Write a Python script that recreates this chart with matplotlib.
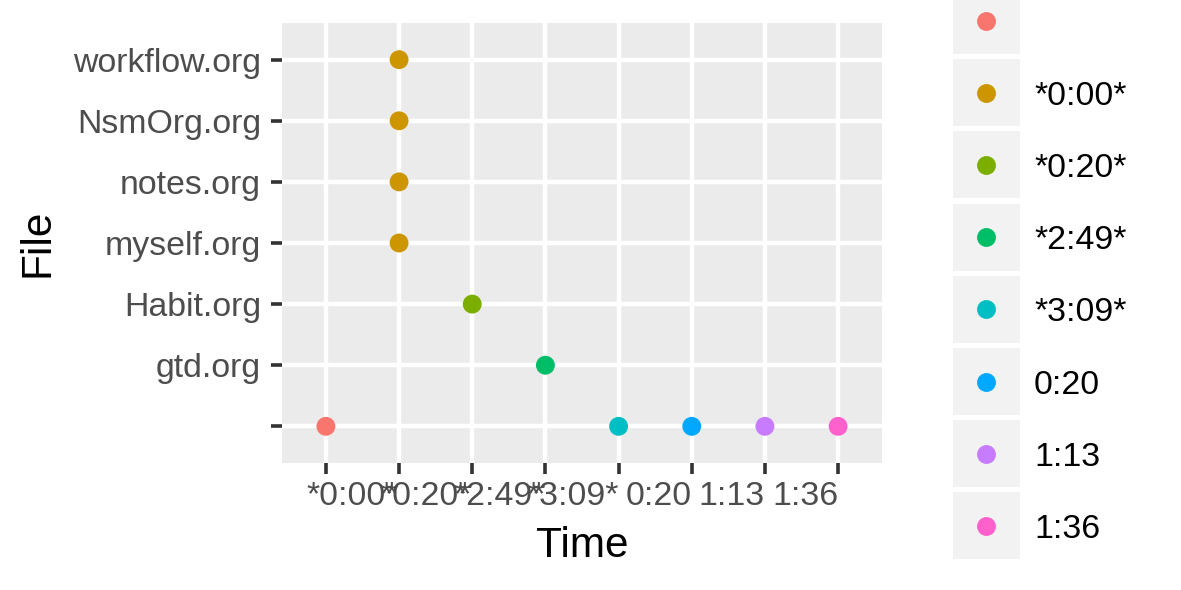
import matplotlib
matplotlib.use("Agg")
import matplotlib.pyplot as plt
from matplotlib.patches import Rectangle
from matplotlib.lines import Line2D

plt.rcParams['font.family'] = ['Liberation Sans', 'DejaVu Sans']

# Data
files = ["", "gtd.org", "Habit.org", "myself.org", "notes.org", "NsmOrg.org", "workflow.org"]
times = ["", "*0:00*", "*0:20*", "*2:49*", "*3:09*", "0:20", "1:13", "1:36"]
time_colors = ["#F8766D", "#CD9600", "#7CAE00", "#00BE67", "#00BFC4", "#00A9FF", "#C77CFF", "#FF61CC"]
point_file = ["", "workflow.org", "NsmOrg.org", "notes.org", "myself.org", "Habit.org", "gtd.org", "", "", "", ""]
point_time = ["", "*0:00*", "*0:00*", "*0:00*", "*0:00*", "*0:20*", "*2:49*", "*3:09*", "0:20", "1:13", "1:36"]

W, H = 1181, 590
fig = plt.figure(figsize=(W / 100, H / 100), dpi=100)

def fx(px):
    return px / W

def fy(py):
    return 1 - py / H

# panel in pixels
pl, pr, pt, pb = 282, 882, 23, 463
ax = fig.add_axes([fx(pl), fy(pb), fx(pr - pl), (pb - pt) / H])
ax.set_facecolor("#EBEBEB")
for s in ax.spines.values():
    s.set_visible(False)

xs = [times.index(t) for t in point_time]
ys = [files.index(f) for f in point_file]
cols = [time_colors[times.index(t)] for t in point_time]
ax.scatter(xs, ys, s=185, c=cols, linewidths=0, zorder=3)

ax.set_xlim(-0.6, len(times) - 1 + 0.6)
ax.set_ylim(-0.6, len(files) - 1 + 0.6)
ax.set_xticks(range(len(times)))
ax.set_xticklabels(times, ha='right')
ax.set_yticks(range(len(files)))
ax.set_yticklabels(files)
ax.grid(True, color="white", linewidth=3.2, zorder=1)
ax.set_axisbelow(True)
ax.tick_params(axis='both', colors="#333333", length=8, width=2.6,
               labelcolor="#4D4D4D", labelsize=24.4)
ax.tick_params(axis='x', pad=5)
ax.tick_params(axis='y', pad=7)

# axis titles
fig.text(fx((pl + pr) / 2), fy(557), "Time", ha='center', va='baseline', fontsize=30.5, color='black')
fig.text(fx(38), fy((pt + pb) / 2), "File", ha='center', va='center', rotation=90, fontsize=30.5, color='black')

# legend (drawn manually)
key_l, key_r = 953, 1020
key_h = 67
for i, (t, c) in enumerate(zip(times, time_colors)):
    cy = 20.5 + 72.2 * i
    fig.patches.append(Rectangle((fx(key_l), fy(cy + key_h / 2)), fx(key_r - key_l), key_h / H,
                                 transform=fig.transFigure, facecolor="#F2F2F2", edgecolor='none'))
    fig.lines.append(Line2D([fx((key_l + key_r) / 2)], [fy(cy)], transform=fig.transFigure,
                            marker='o', markersize=13.6, markerfacecolor=c, markeredgewidth=0,
                            linestyle='none'))
    fig.text(fx(1034), fy(cy), t, ha='left', va='center_baseline', fontsize=24.4, color='black')

fig.savefig("out.png", dpi=100, facecolor="white")
